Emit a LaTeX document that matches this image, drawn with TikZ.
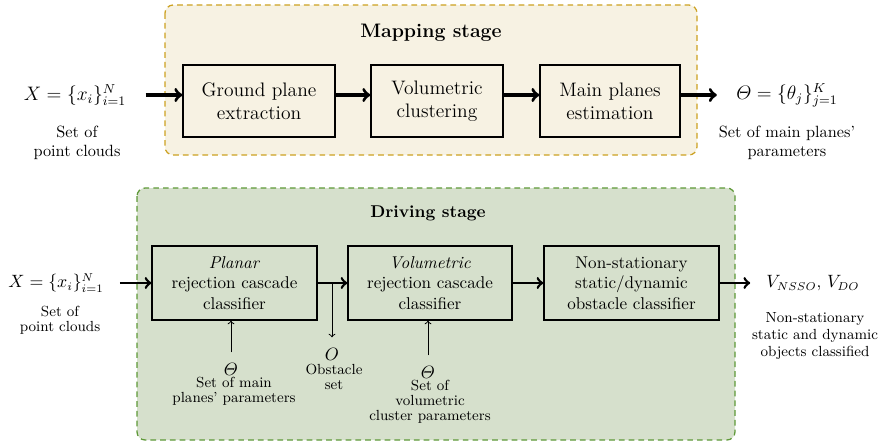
\documentclass[tikz,border=0pt]{standalone}
\usepackage{amsmath}
\usepackage{amssymb}
\usepackage{tikz}
\usetikzlibrary{arrows}
\definecolor{mapfill}{rgb}{0.97, 0.95, 0.89}
\definecolor{mapline}{rgb}{0.80, 0.63, 0.13}
\definecolor{drvfill}{rgb}{0.84, 0.88, 0.80}
\definecolor{drvline}{rgb}{0.37, 0.60, 0.22}
\tikzset{mapframe/.style = {draw = mapline, fill = mapfill, line width = 0.8pt, dash pattern = on 3.5pt off 2.5pt, rounded corners = 5pt}}
\tikzset{drvframe/.style = {draw = drvline, fill = drvfill, line width = 0.8pt, dash pattern = on 3.5pt off 2.5pt, rounded corners = 5pt}}
\tikzset{topblock/.style = {draw, line width = 0.9pt, align = center, minimum height = 1.555cm, font = \large}}
\tikzset{botblock/.style = {draw, line width = 0.8pt, align = center, minimum height = 1.6cm, font = \fontsize{10.5}{12.5}\selectfont}}
\tikzset{topmath/.style = {inner sep = 0, outer sep = 12pt, font = \large}}
\tikzset{botmath/.style = {inner sep = 0, outer sep = 10pt, font = \fontsize{10.5}{12.5}\selectfont}}
\tikzset{topnote/.style = {align = center, font = \fontsize{10}{11.3}\selectfont}}
\tikzset{botnote/.style = {align = center, font = \fontsize{9}{9.3}\selectfont}}
\tikzset{param/.style = {inner sep = 0, outer sep = 6.5pt, font = \fontsize{11}{13}\selectfont}}
\tikzset{topflow/.style = {->, line width = 2pt}}
\tikzset{flow/.style = {->, line width = 1.6pt}}
\tikzset{feed/.style = {->, line width = 0.6pt}}

\begin{document}
\begin{tikzpicture}[x = 0.0216cm, y = -0.0216cm]
      \useasboundingbox (0, 0) rectangle (879, 445);

      % mapping stage
      \draw [mapframe] (165, 5) rectangle (697, 155);
      \node (maptitle) at (431, 33) {\large\bfseries Mapping stage};

      \node [topblock, minimum width = 3.28cm] (ground) at (259, 101) {Ground plane\\extraction};
      \node [topblock, minimum width = 2.85cm] (volclust) at (437, 101) {Volumetric\\clustering};
      \node [topblock, minimum width = 3.02cm] (mainpl) at (610, 101) {Main planes\\estimation};

      \node [topmath] (mapin) at (75, 95) {$X = \{x_i\}_{i=1}^N$};
      \node [topnote] (mapincap) at (77, 143) {Set of\\point clouds};
      \node [topmath] (mapout) at (787, 95) {$\varTheta = \{\theta_j\}_{j=1}^K$};
      \node [topnote] (mapoutcap) at (787, 143) {Set of main planes'\\parameters};

      \draw [topflow] (mapin) -- (ground.west |- mapin);
      \draw [topflow] (ground.east |- mapin) -- (volclust.west |- mapin);
      \draw [topflow] (volclust.east |- mapin) -- (mainpl.west |- mapin);
      \draw [topflow] (mainpl.east |- mapout) -- (mapout);

      % driving stage
      \draw [drvframe] (137, 188) rectangle (735, 440);
      \node [font = \fontsize{10.5}{12.5}\selectfont] (drvtitle) at (428, 213) {\bfseries Driving stage};

      \node [botblock, minimum width = 3.56cm] (planar) at (234.5, 283) {\textit{Planar}\\rejection cascade\\classifier};
      \node [botblock, minimum width = 3.54cm] (volrej) at (430, 283) {\textit{Volumetric}\\rejection cascade\\classifier};
      \node [botblock, minimum width = 3.78cm] (nonstat) at (631.5, 283) {Non-stationary\\static/dynamic\\obstacle classifier};

      \node [botmath] (drvin) at (56, 283) {$X = \{x_i\}_{i=1}^N$};
      \node [botnote] (drvincap) at (60, 320) {Set of\\point clouds};
      \node [botmath] (drvout) at (813, 283) {$V_{NSSO}$, $V_{DO}$};
      \node [botnote, font = \fontsize{9}{10.7}\selectfont] (drvoutcap) at (815, 336) {Non-stationary\\static and dynamic\\objects classified};

      \node [param] (planth) at (231, 369) {$\varTheta$};
      \node [botnote] (planthcap) at (234, 391) {Set of main\\planes' parameters};
      \node [param] (obst) at (332, 354) {$O$};
      \node [botnote] (obstcap) at (334, 377) {Obstacle\\set};
      \node [param] (volth) at (428, 372) {$\varTheta$};
      \node [botnote] (volthcap) at (430, 402) {Set of\\volumetric\\cluster parameters};
      \coordinate (split) at (332, 283);

      \draw [flow] (drvin) -- (planar);
      \draw [flow] (planar) -- (volrej);
      \draw [flow] (volrej) -- (nonstat);
      \draw [flow] (nonstat) -- (drvout);
      \draw [feed] (planth) -- (planth |- planar.south);
      \draw [feed] (volth) -- (volth |- volrej.south);
      \draw [feed] (split) -- (obst);
    \end{tikzpicture}
\end{document}
